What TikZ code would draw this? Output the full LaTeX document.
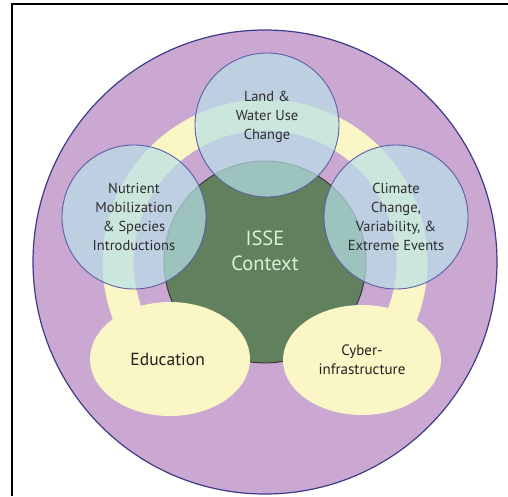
\documentclass[tikz,border=0pt]{standalone}
\usepackage{fontspec}
\setmainfont{PT Sans}
\usepackage{tikz}
\usetikzlibrary{positioning, shapes.geometric}

\definecolor{ringpurple}{RGB}{202,168,210}
\definecolor{ringline}{RGB}{62,58,138}
\definecolor{bandyellow}{RGB}{250,246,198}
\definecolor{coregreen}{RGB}{96,128,94}
\definecolor{coretext}{RGB}{220,240,214}
\definecolor{issueblue}{RGB}{184,224,232}
\definecolor{issueline}{RGB}{92,94,166}
\definecolor{labelgray}{RGB}{45,45,45}

\begin{document}
\begin{tikzpicture}[x = 1pt, y = -1pt,
    every node/.style = { align = center, inner sep = 0pt },
    issue/.style = { circle, draw = issueline, line width = 0.9pt, fill = issueblue, fill opacity = 0.7, text opacity = 1, minimum size = 144pt, text = labelgray, font = \fontsize{14.5}{19}\selectfont },
    program/.style = { ellipse, fill = bandyellow, text = labelgray!70!black }]
    \useasboundingbox (0, 0) rectangle (508, 496);

    % frame
    \draw[line width = 1.6pt] (12, 496) -- (12, 4) -- (508, 4);

    % outer ring and band
    \node[circle, draw = ringline, line width = 1.2pt, fill = ringpurple, minimum size = 464pt] (outer) at (265, 262) { };
    \draw[bandyellow, line width = 31pt] (outer.center) ++(-32:147pt) arc[start angle = -32, end angle = 212, radius = 147pt];

    % core
    \node[circle, draw = black!80, line width = 0.9pt, fill = coregreen, minimum size = 202pt] (core) at (outer.center) { };
    \node[text = coretext, font = \fontsize{20.5}{25}\selectfont] (coretitle) at (265, 251) { ISSE\\Context };

    % programs
    \node[program, minimum width = 160pt, minimum height = 114pt, font = \fontsize{17.5}{20}\selectfont] (edu) at (170, 359) { Education };
    \node[program, minimum width = 158pt, minimum height = 110pt, font = \fontsize{15}{19}\selectfont] (cyber) at (362, 360) { Cyber-\\infrastructure };

    % issues
    \node[issue] (land) at (267, 125) { };
    \node[issue] (nutrient) at (134, 217) { Nutrient\\Mobilization\\\& Species\\Introductions };
    \node[issue] (climate) at (396, 217) { Climate\\Change,\\Variability, \&\\Extreme Events };
    \node[text = labelgray, font = \fontsize{14.5}{19}\selectfont] (landtext) at (267, 117) { Land \&\\Water Use\\Change };
  \end{tikzpicture}
\end{document}
